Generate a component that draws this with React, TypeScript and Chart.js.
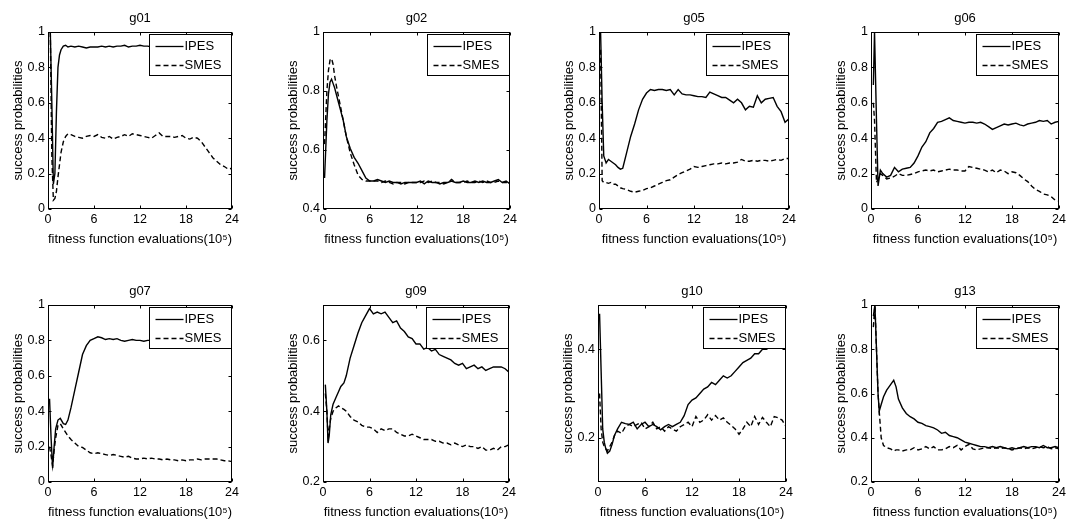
import React, { useEffect, useRef } from "react";
import { Chart, registerables } from "chart.js";

Chart.register(...registerables);

const FONT = '"Liberation Sans", Arial, Helvetica, sans-serif';
const SERIES_NAMES = ["IPES", "SMES"];
const X_TICKS = [0, 6, 12, 18, 24];
const X_TITLE = "fitness function evaluations(10\u2075)";
const Y_TITLE = "success probabilities";

// shared x positions (x 10^5 evaluations) after the start-up phase
const LATE_X = [3.5, 4, 4.5, 5, 5.5, 6, 6.5, 7, 7.5, 8, 8.5, 9, 9.5, 10, 10.5, 11, 11.5, 12, 12.5, 13, 13.5, 14, 14.5, 15, 15.5, 16, 16.5, 17, 17.5, 18, 18.5, 19, 19.5, 20, 20.5, 21, 21.5, 22, 22.5, 23, 23.5, 24];

// g01
const G01_EX = [0.3, 0.5, 0.7, 0.9, 1.1, 1.3, 1.5, 1.7, 2.0, 2.3, 2.6, 3.0];
const G01_IPES_E = [1.0, 0.6, 0.14, 0.2, 0.55, 0.8, 0.87, 0.9, 0.92, 0.925, 0.915, 0.92];
const G01_SMES_E = [1.0, 0.3, 0.05, 0.06, 0.1, 0.18, 0.25, 0.32, 0.38, 0.41, 0.425, 0.42];
const G01_IPES_L = [0.915, 0.92, 0.915, 0.91, 0.915, 0.915, 0.915, 0.92, 0.915, 0.92, 0.915, 0.92, 0.92, 0.925, 0.915, 0.92, 0.92, 0.925, 0.92, 0.92, 0.915, 0.92, 0.92, 0.915, 0.92, 0.915, 0.92, 0.92, 0.915, 0.92, 0.915, 0.92, 0.915, 0.92, 0.915, 0.92, 0.915, 0.92, 0.915, 0.92, 0.915, 0.915];
const G01_SMES_L = [0.41, 0.405, 0.40, 0.41, 0.415, 0.41, 0.42, 0.405, 0.40, 0.41, 0.395, 0.405, 0.41, 0.42, 0.41, 0.425, 0.42, 0.415, 0.41, 0.405, 0.40, 0.415, 0.43, 0.41, 0.41, 0.41, 0.405, 0.41, 0.415, 0.40, 0.395, 0.405, 0.40, 0.38, 0.35, 0.32, 0.29, 0.27, 0.25, 0.24, 0.225, 0.23];

// g02
const G02_EX = [0.2, 0.5, 0.7, 0.9, 1.1, 1.3, 1.5, 1.7, 2.0, 2.3, 2.6, 3.0];
const G02_IPES_E = [0.505, 0.70, 0.79, 0.83, 0.84, 0.825, 0.81, 0.79, 0.76, 0.73, 0.70, 0.645];
const G02_SMES_E = [0.62, 0.80, 0.87, 0.905, 0.91, 0.89, 0.85, 0.82, 0.78, 0.74, 0.70, 0.645];
const G02_IPES_L = [0.605, 0.575, 0.555, 0.53, 0.505, 0.495, 0.495, 0.50, 0.495, 0.49, 0.495, 0.49, 0.49, 0.485, 0.49, 0.49, 0.49, 0.49, 0.495, 0.485, 0.495, 0.49, 0.49, 0.485, 0.49, 0.49, 0.495, 0.49, 0.49, 0.495, 0.49, 0.49, 0.495, 0.49, 0.495, 0.49, 0.49, 0.495, 0.50, 0.49, 0.495, 0.485];
const G02_SMES_L = [0.59, 0.55, 0.515, 0.50, 0.495, 0.495, 0.495, 0.495, 0.49, 0.495, 0.49, 0.485, 0.49, 0.49, 0.485, 0.49, 0.49, 0.49, 0.49, 0.495, 0.49, 0.495, 0.49, 0.49, 0.485, 0.49, 0.50, 0.49, 0.49, 0.49, 0.495, 0.49, 0.49, 0.495, 0.49, 0.495, 0.49, 0.49, 0.495, 0.49, 0.49, 0.49];

// g05
const G05_EX = [0.2, 0.4, 0.6, 0.9, 1.2, 1.5, 1.8, 2.1, 2.4, 2.7, 3.0];
const G05_IPES_E = [1.0, 0.6, 0.30, 0.26, 0.28, 0.27, 0.26, 0.25, 0.235, 0.225, 0.23];
const G05_SMES_E = [0.9, 0.16, 0.15, 0.15, 0.145, 0.15, 0.14, 0.14, 0.13, 0.12, 0.115];
const G05_IPES_L = [0.32, 0.41, 0.48, 0.56, 0.62, 0.655, 0.675, 0.67, 0.675, 0.675, 0.67, 0.675, 0.645, 0.675, 0.65, 0.645, 0.645, 0.64, 0.635, 0.635, 0.63, 0.66, 0.65, 0.64, 0.63, 0.63, 0.615, 0.60, 0.62, 0.60, 0.56, 0.58, 0.575, 0.64, 0.60, 0.62, 0.625, 0.63, 0.58, 0.55, 0.49, 0.51];
const G05_SMES_L = [0.11, 0.10, 0.095, 0.10, 0.105, 0.115, 0.12, 0.13, 0.14, 0.15, 0.16, 0.165, 0.18, 0.195, 0.205, 0.215, 0.225, 0.24, 0.235, 0.24, 0.245, 0.25, 0.255, 0.255, 0.26, 0.255, 0.26, 0.26, 0.265, 0.28, 0.27, 0.27, 0.275, 0.27, 0.275, 0.275, 0.27, 0.275, 0.28, 0.275, 0.285, 0.285];

// g06
const G06_EX = [0.3, 0.45, 0.7, 0.9, 1.2, 1.5, 2.0, 2.5, 3.0];
const G06_IPES_E = [0.7, 1.0, 0.5, 0.13, 0.22, 0.20, 0.18, 0.19, 0.235];
const G06_SMES_E = [0.6, 0.5, 0.15, 0.17, 0.20, 0.19, 0.17, 0.175, 0.185];
const G06_IPES_L = [0.21, 0.225, 0.23, 0.235, 0.26, 0.30, 0.35, 0.38, 0.43, 0.455, 0.49, 0.495, 0.505, 0.515, 0.50, 0.495, 0.49, 0.485, 0.49, 0.49, 0.485, 0.49, 0.48, 0.465, 0.45, 0.46, 0.47, 0.48, 0.475, 0.48, 0.485, 0.475, 0.47, 0.48, 0.485, 0.49, 0.50, 0.495, 0.50, 0.48, 0.49, 0.495];
const G06_SMES_L = [0.20, 0.19, 0.19, 0.195, 0.20, 0.21, 0.215, 0.22, 0.215, 0.22, 0.21, 0.215, 0.22, 0.225, 0.22, 0.22, 0.215, 0.215, 0.24, 0.235, 0.23, 0.225, 0.22, 0.21, 0.22, 0.205, 0.22, 0.215, 0.20, 0.21, 0.205, 0.19, 0.17, 0.155, 0.13, 0.11, 0.10, 0.085, 0.08, 0.07, 0.05, 0.045];

// g07
const G07_EX = [0.2, 0.4, 0.6, 0.8, 1.0, 1.3, 1.6, 2.0, 2.3, 2.6, 3.0];
const G07_IPES_E = [0.47, 0.25, 0.08, 0.2, 0.30, 0.35, 0.36, 0.33, 0.325, 0.35, 0.42];
const G07_SMES_E = [0.2, 0.15, 0.09, 0.18, 0.25, 0.32, 0.33, 0.30, 0.28, 0.26, 0.24];
const G07_IPES_L = [0.52, 0.62, 0.72, 0.77, 0.80, 0.81, 0.82, 0.815, 0.805, 0.81, 0.805, 0.81, 0.80, 0.795, 0.80, 0.805, 0.80, 0.80, 0.795, 0.80, 0.80, 0.80, 0.805, 0.80, 0.80, 0.795, 0.80, 0.80, 0.805, 0.80, 0.80, 0.795, 0.80, 0.80, 0.80, 0.805, 0.80, 0.80, 0.795, 0.80, 0.80, 0.80];
const G07_SMES_L = [0.22, 0.20, 0.195, 0.18, 0.165, 0.16, 0.165, 0.16, 0.155, 0.15, 0.155, 0.15, 0.145, 0.14, 0.145, 0.135, 0.13, 0.13, 0.135, 0.13, 0.135, 0.13, 0.13, 0.125, 0.13, 0.125, 0.125, 0.12, 0.125, 0.12, 0.125, 0.125, 0.13, 0.125, 0.13, 0.13, 0.13, 0.13, 0.125, 0.12, 0.12, 0.115];

// g09
const G09_EX = [0.3, 0.5, 0.65, 0.8, 1.0, 1.3, 1.7, 2.0, 2.3, 2.7, 3.0];
const G09_IPES_E = [0.475, 0.40, 0.31, 0.33, 0.39, 0.42, 0.44, 0.455, 0.47, 0.48, 0.50];
const G09_SMES_E = [0.45, 0.40, 0.33, 0.35, 0.38, 0.40, 0.41, 0.415, 0.41, 0.405, 0.40];
const G09_IPES_L = [0.55, 0.585, 0.62, 0.65, 0.67, 0.69, 0.675, 0.68, 0.675, 0.68, 0.665, 0.65, 0.655, 0.635, 0.625, 0.61, 0.605, 0.59, 0.59, 0.575, 0.58, 0.57, 0.575, 0.56, 0.555, 0.55, 0.545, 0.535, 0.53, 0.535, 0.52, 0.525, 0.53, 0.52, 0.525, 0.515, 0.52, 0.525, 0.525, 0.525, 0.52, 0.51];
const G09_SMES_L = [0.385, 0.375, 0.37, 0.36, 0.355, 0.355, 0.35, 0.34, 0.35, 0.345, 0.35, 0.35, 0.34, 0.335, 0.33, 0.33, 0.335, 0.33, 0.325, 0.32, 0.32, 0.32, 0.315, 0.315, 0.31, 0.31, 0.305, 0.31, 0.305, 0.30, 0.305, 0.30, 0.30, 0.295, 0.30, 0.29, 0.29, 0.295, 0.29, 0.30, 0.30, 0.305];

// g10
const G10_EX = [0.2, 0.4, 0.6, 0.8, 1.0, 1.2, 1.5, 1.8, 2.1, 2.5, 3.0];
const G10_IPES_E = [0.48, 0.35, 0.22, 0.19, 0.175, 0.165, 0.17, 0.185, 0.205, 0.22, 0.235];
const G10_SMES_E = [0.30, 0.22, 0.19, 0.18, 0.175, 0.17, 0.18, 0.19, 0.205, 0.215, 0.21];
const G10_IPES_L = [0.232, 0.23, 0.235, 0.22, 0.23, 0.235, 0.225, 0.23, 0.225, 0.218, 0.225, 0.23, 0.225, 0.23, 0.235, 0.25, 0.275, 0.285, 0.29, 0.30, 0.31, 0.315, 0.325, 0.32, 0.33, 0.34, 0.335, 0.34, 0.35, 0.36, 0.37, 0.375, 0.38, 0.39, 0.39, 0.40, 0.40, 0.405, 0.42, 0.43, 0.44, 0.43];
const G10_SMES_L = [0.225, 0.23, 0.225, 0.23, 0.235, 0.22, 0.225, 0.235, 0.22, 0.225, 0.215, 0.225, 0.22, 0.215, 0.225, 0.23, 0.235, 0.225, 0.248, 0.235, 0.24, 0.252, 0.24, 0.25, 0.24, 0.245, 0.235, 0.228, 0.22, 0.208, 0.22, 0.235, 0.225, 0.248, 0.23, 0.246, 0.235, 0.225, 0.248, 0.245, 0.24, 0.225];

// g13
const G13_EX = [0.3, 0.5, 0.7, 0.9, 1.05, 1.3, 1.6, 2.0, 2.5, 2.9, 3.2];
const G13_IPES_E = [0.95, 1.0, 0.8, 0.6, 0.52, 0.55, 0.585, 0.615, 0.64, 0.66, 0.63];
const G13_SMES_E = [0.9, 1.0, 0.8, 0.6, 0.52, 0.40, 0.365, 0.355, 0.35, 0.34, 0.345];
const G13_IPES_L = [0.575, 0.535, 0.51, 0.495, 0.485, 0.47, 0.465, 0.455, 0.45, 0.445, 0.435, 0.42, 0.425, 0.41, 0.405, 0.40, 0.39, 0.38, 0.375, 0.37, 0.365, 0.36, 0.36, 0.355, 0.36, 0.355, 0.36, 0.355, 0.35, 0.355, 0.35, 0.355, 0.36, 0.355, 0.36, 0.36, 0.355, 0.365, 0.355, 0.355, 0.36, 0.355];
const G13_SMES_L = [0.345, 0.34, 0.345, 0.345, 0.355, 0.345, 0.35, 0.36, 0.35, 0.36, 0.345, 0.345, 0.35, 0.36, 0.355, 0.365, 0.345, 0.36, 0.37, 0.35, 0.345, 0.35, 0.355, 0.355, 0.35, 0.355, 0.35, 0.355, 0.35, 0.345, 0.35, 0.355, 0.35, 0.355, 0.35, 0.355, 0.36, 0.355, 0.36, 0.35, 0.355, 0.35];

// y-axis tick labels
const Y_TICKS_0_1 = [0, 0.2, 0.4, 0.6, 0.8, 1];
const Y_TICKS_G02 = [0.4, 0.6, 0.8, 1];
const Y_TICKS_G09 = [0.2, 0.4, 0.6];
const Y_TICKS_G10 = [0.2, 0.4];
const Y_TICKS_G13 = [0.2, 0.4, 0.6, 0.8, 1];

type Spec = {
  title: string;
  x: number[];
  ipes: number[];
  smes: number[];
  yMin: number;
  yMax: number;
  yTicks: number[];
  rect: [number, number, number, number]; // plot box L,T,R,B in page px
};

const PANELS: Spec[] = [
  { title: "g01", x: [...G01_EX, ...LATE_X], ipes: [...G01_IPES_E, ...G01_IPES_L], smes: [...G01_SMES_E, ...G01_SMES_L], yMin: 0, yMax: 1, yTicks: Y_TICKS_0_1, rect: [48, 32, 232, 209] },
  { title: "g02", x: [...G02_EX, ...LATE_X], ipes: [...G02_IPES_E, ...G02_IPES_L], smes: [...G02_SMES_E, ...G02_SMES_L], yMin: 0.4, yMax: 1, yTicks: Y_TICKS_G02, rect: [323, 32, 510, 209] },
  { title: "g05", x: [...G05_EX, ...LATE_X], ipes: [...G05_IPES_E, ...G05_IPES_L], smes: [...G05_SMES_E, ...G05_SMES_L], yMin: 0, yMax: 1, yTicks: Y_TICKS_0_1, rect: [599, 32, 789, 209] },
  { title: "g06", x: [...G06_EX, ...LATE_X], ipes: [...G06_IPES_E, ...G06_IPES_L], smes: [...G06_SMES_E, ...G06_SMES_L], yMin: 0, yMax: 1, yTicks: Y_TICKS_0_1, rect: [871, 32, 1059, 209] },
  { title: "g07", x: [...G07_EX, ...LATE_X], ipes: [...G07_IPES_E, ...G07_IPES_L], smes: [...G07_SMES_E, ...G07_SMES_L], yMin: 0, yMax: 1, yTicks: Y_TICKS_0_1, rect: [48, 305, 232, 482] },
  { title: "g09", x: [...G09_EX, ...LATE_X], ipes: [...G09_IPES_E, ...G09_IPES_L], smes: [...G09_SMES_E, ...G09_SMES_L], yMin: 0.2, yMax: 0.7, yTicks: Y_TICKS_G09, rect: [323, 305, 509, 482] },
  { title: "g10", x: [...G10_EX, ...LATE_X], ipes: [...G10_IPES_E, ...G10_IPES_L], smes: [...G10_SMES_E, ...G10_SMES_L], yMin: 0.1, yMax: 0.5, yTicks: Y_TICKS_G10, rect: [598, 305, 786, 482] },
  { title: "g13", x: [...G13_EX, ...LATE_X], ipes: [...G13_IPES_E, ...G13_IPES_L], smes: [...G13_SMES_E, ...G13_SMES_L], yMin: 0.2, yMax: 1, yTicks: Y_TICKS_G13, rect: [871, 305, 1059, 482] },
];

const PAD_L = 48;
const PAD_T = 32;
const PAD_R = 10;
const PAD_B = 40;
const TICK_LEN = 3;

const framePlugin = {
  id: "matlabFrame",
  afterDatasetsDraw(chart: any) {
    const { ctx, chartArea } = chart;
    const l = Math.round(chartArea.left) + 0.5;
    const t = Math.round(chartArea.top) + 0.5;
    const r = Math.round(chartArea.right) - 0.5;
    const b = Math.round(chartArea.bottom) - 0.5;
    ctx.save();
    ctx.strokeStyle = "#000";
    ctx.lineWidth = 1;
    ctx.setLineDash([]);
    ctx.strokeRect(l, t, r - l, b - t);
    ctx.beginPath();
    const xs = chart.scales.x;
    xs.ticks.forEach((tk: any) => {
      const px = Math.round(xs.getPixelForValue(tk.value)) + 0.5;
      ctx.moveTo(px, b);
      ctx.lineTo(px, b - TICK_LEN);
      ctx.moveTo(px, t);
      ctx.lineTo(px, t + TICK_LEN);
    });
    const ys = chart.scales.y;
    ys.ticks.forEach((tk: any) => {
      const py = Math.round(ys.getPixelForValue(tk.value)) + 0.5;
      ctx.moveTo(l, py);
      ctx.lineTo(l + TICK_LEN, py);
      ctx.moveTo(r, py);
      ctx.lineTo(r - TICK_LEN, py);
    });
    ctx.stroke();
    ctx.restore();
  },
};

const boxLegendPlugin = {
  id: "boxLegend",
  afterDraw(chart: any) {
    const { ctx, chartArea } = chart;
    const w = 82;
    const h = 41;
    const right = Math.round(chartArea.right) - 0.5;
    const x0 = right - w;
    const y0 = Math.round(chartArea.top) + 2.5;
    ctx.save();
    ctx.fillStyle = "#fff";
    ctx.fillRect(x0, y0, w, h);
    ctx.strokeStyle = "#000";
    ctx.lineWidth = 1;
    ctx.setLineDash([]);
    ctx.strokeRect(x0, y0, w, h);
    ctx.font = `13px ${FONT}`;
    ctx.textBaseline = "middle";
    ctx.textAlign = "left";
    ctx.fillStyle = "#000";
    chart.data.datasets.forEach((ds: any, i: number) => {
      const cy = Math.round(y0 + 11 + i * 19) + 0.5;
      ctx.beginPath();
      ctx.setLineDash(ds.borderDash || []);
      ctx.lineWidth = 1.3;
      ctx.moveTo(x0 + 6, cy);
      ctx.lineTo(x0 + 34, cy);
      ctx.stroke();
      ctx.setLineDash([]);
      ctx.fillText(ds.label, x0 + 35, cy);
    });
    ctx.restore();
  },
};

function Panel({ spec }: { spec: Spec }) {
  const ref = useRef<HTMLCanvasElement | null>(null);
  const [L, T, R, B] = spec.rect;
  const width = R - L + PAD_L + PAD_R;
  const height = B - T + PAD_T + PAD_B;

  useEffect(() => {
    if (!ref.current) return;
    const pts = (vals: number[]) => spec.x.map((x, i) => ({ x, y: vals[i] }));
    const tickFont = { family: FONT, size: 12.5 };
    const labelFont = { family: FONT, size: 13 };
    const chart = new Chart(ref.current, {
      type: "line",
      data: {
        datasets: [
          { label: SERIES_NAMES[0], data: pts(spec.ipes), borderColor: "#000", backgroundColor: "#000", borderWidth: 1.4, pointRadius: 0, fill: false, tension: 0 },
          { label: SERIES_NAMES[1], data: pts(spec.smes), borderColor: "#000", backgroundColor: "#000", borderWidth: 1.4, borderDash: [5, 3], pointRadius: 0, fill: false, tension: 0 },
        ],
      },
      options: {
        responsive: false,
        animation: false,
        devicePixelRatio: 1,
        events: [],
        layout: { padding: { left: 0, top: 0, right: PAD_R, bottom: 0 } },
        plugins: {
          legend: { display: false },
          tooltip: { enabled: false },
          title: {
            display: true,
            text: spec.title,
            fullSize: false,
            color: "#000",
            font: { family: FONT, size: 13, weight: "normal" },
            padding: { top: 10.2, bottom: 6.2 },
          },
        },
        scales: {
          x: {
            type: "linear",
            min: 0,
            max: 24,
            grid: { display: false, drawTicks: false },
            border: { display: false },
            ticks: { color: "#000", font: tickFont, padding: 3, autoSkip: false, maxRotation: 0, callback: (v: any) => String(v) },
            title: { display: true, text: X_TITLE, color: "#000", font: labelFont, padding: { top: 0, bottom: 2.2 } },
            afterBuildTicks: (s: any) => {
              s.ticks = X_TICKS.map((v) => ({ value: v }));
            },
            afterFit: (s: any) => {
              s.height = PAD_B;
              s.paddingLeft = 0;
              s.paddingRight = 0;
            },
          },
          y: {
            type: "linear",
            min: spec.yMin,
            max: spec.yMax,
            grid: { display: false, drawTicks: false },
            border: { display: false },
            ticks: { color: "#000", font: tickFont, padding: 3, autoSkip: false, callback: (v: any) => String(v) },
            title: { display: true, text: Y_TITLE, color: "#000", font: labelFont, padding: { top: 10.2, bottom: 0 } },
            afterBuildTicks: (s: any) => {
              s.ticks = spec.yTicks.map((v) => ({ value: v }));
            },
            afterFit: (s: any) => {
              s.width = PAD_L;
              s.paddingTop = 0;
              s.paddingBottom = 0;
            },
          },
        },
      } as any,
      plugins: [framePlugin, boxLegendPlugin],
    });
    return () => chart.destroy();
  }, []);

  return (
    <canvas
      ref={ref}
      width={width}
      height={height}
      style={{ position: "absolute", left: L - PAD_L, top: T - PAD_T, width, height }}
    />
  );
}

export default function App() {
  return (
    <div style={{ position: "fixed", left: 0, top: 0, width: 1070, height: 522, background: "#fff", overflow: "hidden" }}>
      {PANELS.map((p) => (
        <Panel key={p.title} spec={p} />
      ))}
    </div>
  );
}
